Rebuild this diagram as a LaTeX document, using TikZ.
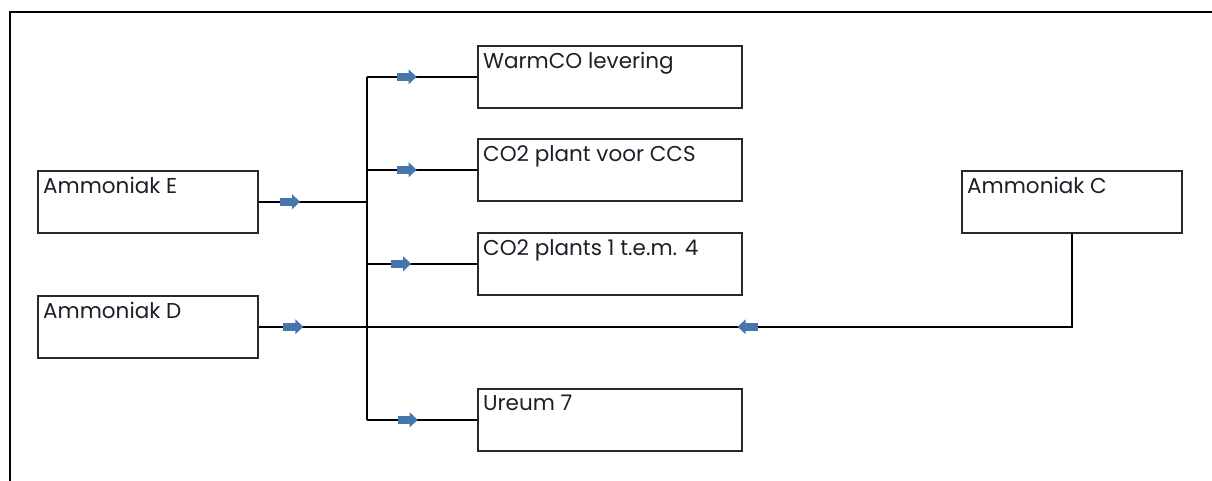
\documentclass[tikz,border=0pt]{standalone}
\usepackage{fontspec}
\setmainfont{Poppins}
\usetikzlibrary{decorations.markings}
\definecolor{flowblue}{RGB}{70,118,172}
\definecolor{boxline}{RGB}{40,40,40}
\definecolor{labelink}{RGB}{30,30,40}
\tikzset{
  unit/.style={draw=boxline, line width=1.6pt, minimum width=220pt, minimum height=62pt,
    inner sep=0pt, anchor=north west},
  unitlabel/.style={anchor=north west, inner sep=0pt, xshift=6pt, yshift=-7pt,
    text=labelink, font=\fontsize{21.5}{25}\selectfont},
  pipe/.style={draw=black, line width=1.8pt},
  flowmark/.style={postaction={decorate, decoration={markings,
    mark=at position #1 with {
      \fill[flowblue] (-10pt,-4pt) rectangle (3pt,4pt);
      \fill[flowblue] (2pt,-7.5pt) -- (10pt,0pt) -- (2pt,7.5pt) -- cycle;}}}}
}
\begin{document}
\begin{tikzpicture}[x=1pt, y=-1pt]
  \useasboundingbox (0,0) rectangle (1212,481);
  \clip (0,0) rectangle (1212,481);

  % outer frame
  \draw[line width=2.2pt] (10,490) -- (10,12) -- (1220,12);

  % sources
  \node[unit, label={[unitlabel]north west:Ammoniak E}] (E) at (37,170) {};
  \node[unit, label={[unitlabel]north west:Ammoniak D}] (D) at (37,295) {};
  \node[unit, label={[unitlabel]north west:Ammoniak C}] (C) at (961,170) {};

  % consumers
  \node[unit, minimum width=264pt, label={[unitlabel]north west:WarmCO levering}] (W) at (477,45) {};
  \node[unit, minimum width=264pt, label={[unitlabel]north west:CO2 plant voor CCS}] (S) at (477,138) {};
  \node[unit, minimum width=264pt, label={[unitlabel]north west:CO2 plants 1 t.e.m. 4}] (P) at (477,232) {};
  \node[unit, minimum width=264pt, label={[unitlabel]north west:Ureum 7}] (U) at (477,388) {};

  % collecting main
  \coordinate (bus) at (367,0);
  \draw[pipe] (bus |- W.west) -- (bus |- U.west);

  % feeds into the main
  \draw[pipe, flowmark=0.29] (E.east) -- (bus |- E.east);
  \draw[pipe, flowmark=0.32] (D.east) -- (bus |- D.east);
  \draw[pipe, flowmark=0.523] (C.south) -- (C.south |- D.east) -- (bus |- D.east);

  % branches to consumers
  \draw[pipe, flowmark=0.36] (bus |- W.west) -- (W.west);
  \draw[pipe, flowmark=0.36] (bus |- S.west) -- (S.west);
  \draw[pipe, flowmark=0.31] (bus |- P.west) -- (P.west);
  \draw[pipe, flowmark=0.37] (bus |- U.west) -- (U.west);
\end{tikzpicture}
\end{document}
